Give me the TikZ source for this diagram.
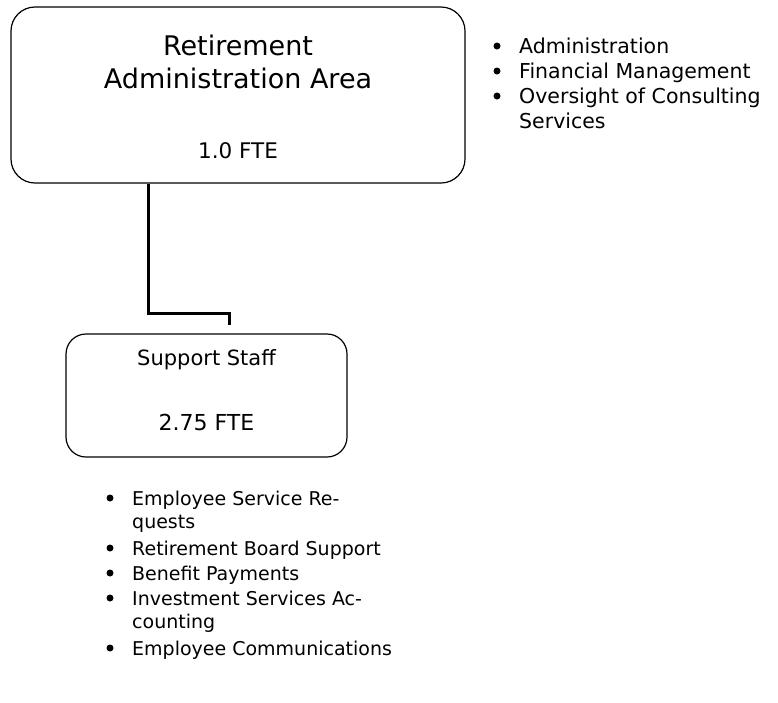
\documentclass[tikz,border=0pt]{standalone}
\usepackage{fontspec}
\setmainfont{DejaVu Sans}
\begin{document}
\begin{tikzpicture}[x=1pt,y=-1pt,
    box/.style={draw, line width=1.2pt, rounded corners=24pt, inner sep=0pt},
    link/.style={line width=3pt},
    txt/.style={anchor=base, inner sep=0pt},
    item/.style={anchor=base west, inner sep=0pt, font=\fontsize{19}{23}\selectfont},
    dot/.style={circle, fill, inner sep=0pt, minimum size=7pt}]
    \useasboundingbox (0,0) rectangle (778,702);

    \node[box, minimum width=454pt, minimum height=176pt] (admin) at (238,95) {};
    \node[txt, font=\fontsize{27}{32}\selectfont] (admintop) at (238,55) {Retirement};
    \node[txt, font=\fontsize{27}{32}\selectfont] (adminname) at (238,88) {Administration Area};
    \node[txt, font=\fontsize{21.5}{25}\selectfont] (adminfte) at (238,158) {1.0 FTE};

    \node[box, rounded corners=20pt, minimum width=281pt, minimum height=123pt] (staff) at (206.5,395.5) {};
    \node[txt, font=\fontsize{21}{25}\selectfont] (staffname) at (206.5,365) {Support Staff};
    \node[txt, font=\fontsize{22}{26}\selectfont] (stafffte) at (206.5,430) {2.75 FTE};

    \coordinate (elbow) at (148,313);
    \coordinate (drop) at (229,325);
    \draw[link] (admin.south -| elbow) -- (elbow) -| (drop);

    \node[dot] (ra) at (497,46) {};
    \node[item, font=\fontsize{20.5}{25}\selectfont] (ratext) at (519,53) {Administration};
    \node[dot] (rb) at (497,71) {};
    \node[item, font=\fontsize{20.5}{25}\selectfont] (rbtext) at (519,78) {Financial Management};
    \node[dot] (rc) at (497,96) {};
    \node[item, font=\fontsize{20.5}{25}\selectfont] (rctext) at (519,103) {Oversight of Consulting};
    \node[item, font=\fontsize{20.5}{25}\selectfont] (rcmore) at (519,128) {Services};

    \node[dot] (sa) at (110,498) {};
    \node[item] (satext) at (132,505) {Employee Service Re-};
    \node[item] (samore) at (132,528) {quests};
    \node[dot] (sb) at (110,548) {};
    \node[item] (sbtext) at (132,555) {Retirement Board Support};
    \node[dot] (sc) at (110,573) {};
    \node[item] (sctext) at (132,580) {Benefit Payments};
    \node[dot] (sd) at (110,598) {};
    \node[item] (sdtext) at (132,605) {Investment Services Ac-};
    \node[item] (sdmore) at (132,628) {counting};
    \node[dot] (se) at (110,648) {};
    \node[item] (setext) at (132,655) {Employee Communications};
\end{tikzpicture}
\end{document}
